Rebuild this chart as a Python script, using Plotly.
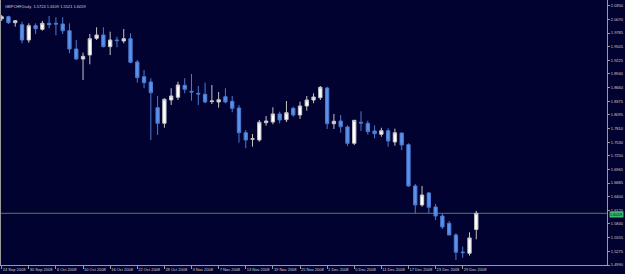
import plotly.graph_objects as go

# ---- data (GBPCHF, Daily) ----
opens = [2.0081, 2.0123, 1.9999, 1.9957, 1.9641, 1.9937, 1.9862, 1.9986, 1.9986, 1.9972,
         1.9833, 1.9455, 1.9248, 1.9331, 1.9676, 1.9745, 1.9503, 1.9641, 1.9621, 1.9668,
         1.9186, 1.8883, 1.8773, 1.8242, 1.7919, 1.8401, 1.8457, 1.8705, 1.8581, 1.8539,
         1.8519, 1.8366, 1.8360, 1.8469, 1.8374, 1.8236, 1.7725, 1.7589, 1.7574, 1.7932,
         1.7946, 1.8112, 1.7994, 1.8229, 1.8091, 1.8277, 1.8401, 1.8449, 1.8649, 1.7911,
         1.7967, 1.7843, 1.7506, 1.7940, 1.7919, 1.7760, 1.7692, 1.7766, 1.7533, 1.7719,
         1.7477, 1.6623, 1.6231, 1.6479, 1.6189, 1.6003, 1.5852, 1.5611, 1.5259, 1.5232,
         1.5724]
highs = [2.0158, 2.0143, 2.0055, 2.0019, 1.9986, 1.9986, 2.0034, 2.0137, 2.0110, 2.0110,
         1.9986, 1.9641, 1.9379, 1.9765, 1.9904, 1.9904, 1.9813, 1.9709, 1.9869, 1.9780,
         1.9228, 1.9021, 1.8850, 1.8484, 1.8436, 1.8643, 1.8779, 1.8850, 1.8938, 1.8690,
         1.8759, 1.8711, 1.8566, 1.8643, 1.8484, 1.8298, 1.7781, 1.7698, 1.7988, 1.8070,
         1.8250, 1.8159, 1.8380, 1.8262, 1.8366, 1.8484, 1.8539, 1.8690, 1.8676, 1.8112,
         1.8091, 1.7878, 1.7988, 1.8167, 1.7973, 1.7878, 1.7828, 1.7816, 1.7808, 1.7719,
         1.7506, 1.6665, 1.6623, 1.6499, 1.6251, 1.6059, 1.5900, 1.5646, 1.5369, 1.5666,
         1.6109]
lows = [2.0034, 1.9972, 1.9916, 1.9573, 1.9585, 1.9765, 1.9833, 1.9883, 1.9738, 1.9765,
        1.9366, 1.9228, 1.8814, 1.9139, 1.9641, 1.9490, 1.9331, 1.9490, 1.9573, 1.9160,
        1.8759, 1.8643, 1.7574, 1.7678, 1.7828, 1.8298, 1.8401, 1.8539, 1.8387, 1.8298,
        1.8333, 1.8318, 1.8242, 1.8333, 1.8147, 1.7518, 1.7403, 1.7436, 1.7539, 1.7870,
        1.7899, 1.7919, 1.7946, 1.8056, 1.8008, 1.8180, 1.8333, 1.8401, 1.7802, 1.7802,
        1.7725, 1.7450, 1.7471, 1.7760, 1.7684, 1.7609, 1.7642, 1.7436, 1.7456, 1.7367,
        1.6609, 1.6059, 1.6196, 1.6059, 1.5921, 1.5735, 1.5605, 1.5094, 1.5141, 1.5183,
        1.5521]
closes = [2.0123, 1.9999, 2.0040, 1.9641, 1.9937, 1.9875, 1.9986, 1.9957, 1.9972, 1.9833,
          1.9455, 1.9248, 1.9304, 1.9668, 1.9745, 1.9503, 1.9641, 1.9627, 1.9668, 1.9180,
          1.8862, 1.8759, 1.8552, 1.7919, 1.8415, 1.8484, 1.8711, 1.8622, 1.8566, 1.8525,
          1.8360, 1.8380, 1.8407, 1.8360, 1.8229, 1.7725, 1.7574, 1.7601, 1.7940, 1.7967,
          1.8112, 1.7988, 1.8138, 1.8091, 1.8277, 1.8401, 1.8463, 1.8663, 1.7911, 1.7961,
          1.7849, 1.7506, 1.7981, 1.7926, 1.7746, 1.7704, 1.7766, 1.7554, 1.7725, 1.7471,
          1.6623, 1.6231, 1.6437, 1.6183, 1.6003, 1.5776, 1.5611, 1.5253, 1.5245, 1.5549,
          1.6059]
bars = list(range(len(opens)))

date_tick_bars = [0, 4, 8, 12, 16, 20, 24, 28, 32, 36, 40, 44, 48, 52, 56, 60, 64, 68]
date_tick_labels = ["24 Sep 2008", "30 Sep 2008", "6 Oct 2008", "10 Oct 2008", "16 Oct 2008",
                    "22 Oct 2008", "28 Oct 2008", "3 Nov 2008", "7 Nov 2008", "13 Nov 2008",
                    "19 Nov 2008", "25 Nov 2008", "1 Dec 2008", "5 Dec 2008", "11 Dec 2008",
                    "17 Dec 2008", "23 Dec 2008", "29 Dec 2008"]
price_ticks = [2.0350, 2.0070, 1.9785, 1.9505, 1.9225, 1.8940, 1.8660, 1.8375, 1.8095, 1.7810,
               1.7530, 1.7250, 1.6965, 1.6685, 1.6400, 1.6120, 1.5840, 1.5555, 1.5275, 1.4990]
price_tick_labels = ["2.0350", "2.0070", "1.9785", "1.9505", "1.9225", "1.8940", "1.8660",
                     "1.8375", "1.8095", "1.7810", "1.7530", "1.7250", "1.6965", "1.6685",
                     "1.6400", "1.6120", "1.5840", "1.5555", "1.5275", "1.4990"]
title_text = "GBPCHF,Daily  1.5724 1.6109 1.5521 1.6059"
last_price = 1.6059
last_price_label = "1.6059"

BG = "#020230"
TXT = "#d0d0d0"
AX = "#9a9a9a"
FONT = "Liberation Sans, Arial, sans-serif"

fig = go.Figure()
fig.add_trace(go.Candlestick(
    x=bars, open=opens, high=highs, low=lows, close=closes,
    increasing=dict(line=dict(color="#c4c4c4", width=1), fillcolor="#ffffff"),
    decreasing=dict(line=dict(color="#4a7ad0", width=1), fillcolor="#5a92ec"),
    whiskerwidth=0, hoverinfo="skip", showlegend=False,
))

fig.add_shape(type="line", xref="paper", yref="y", x0=0, x1=1,
              y0=last_price, y1=last_price,
              line=dict(color="#4f7c68", width=1), layer="below")

fig.add_annotation(xref="paper", yref="paper", x=0.003, y=1, xanchor="left", yanchor="top",
                   yshift=-2, text=title_text, showarrow=False,
                   font=dict(family=FONT, size=4, color=TXT))
fig.add_annotation(xref="paper", yref="y", x=1, y=last_price, xanchor="left", yanchor="middle",
                   xshift=2, yshift=-1, text=last_price_label, showarrow=False, bgcolor="#3dbb75",
                   borderpad=0, font=dict(family=FONT, size=4, color="#000000"))

fig.update_layout(
    width=625, height=274,
    margin=dict(l=1, r=18, t=0, b=9, autoexpand=False),
    paper_bgcolor=BG, plot_bgcolor=BG,
    font=dict(family=FONT, size=4, color=TXT),
    showlegend=False, hovermode=False,
    xaxis=dict(
        range=[-0.1, 89.28], rangeslider=dict(visible=False),
        tickmode="array", tickvals=date_tick_bars, ticktext=date_tick_labels,
        ticks="outside", ticklen=3, tickcolor=AX, tickwidth=1, tickangle=0,
        ticklabelposition="outside right", automargin=False,
        showgrid=False, zeroline=False, showline=True, linecolor=AX, linewidth=1,
        tickfont=dict(family=FONT, size=4, color=TXT),
    ),
    yaxis=dict(
        range=[1.4990, 2.0468], side="right", automargin=False,
        tickmode="array", tickvals=price_ticks, ticktext=price_tick_labels,
        ticks="outside", ticklen=2, tickcolor=AX, tickwidth=1,
        showgrid=False, zeroline=False, showline=True, mirror=True, linecolor=AX, linewidth=1,
        tickfont=dict(family=FONT, size=4, color=TXT),
    ),
)

fig.write_html("out.html", config={"displayModeBar": False})
